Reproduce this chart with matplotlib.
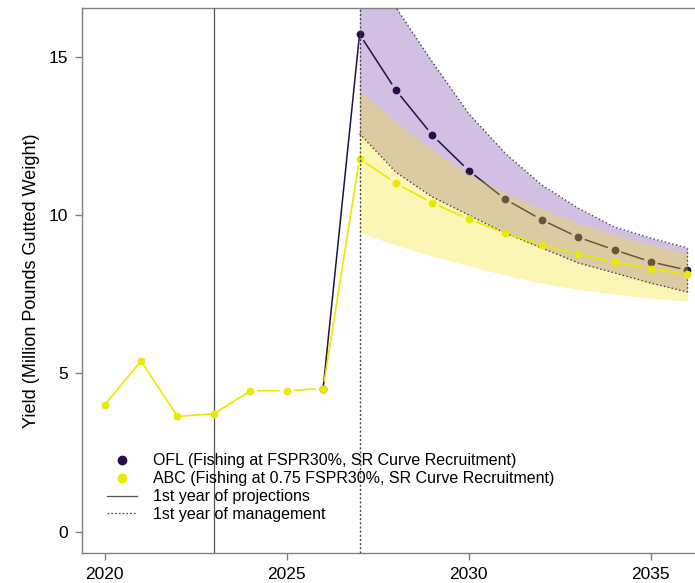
import matplotlib
matplotlib.use("Agg")
import matplotlib.pyplot as plt
from matplotlib.lines import Line2D

plt.rcParams['font.family'] = ['Liberation Sans', 'DejaVu Sans']

# ---- data ----
years = list(range(2020, 2037))
abc = [4.0, 5.39, 3.64, 3.72, 4.45, 4.45, 4.52, 11.78, 11.0, 10.38,
       9.87, 9.43, 9.05, 8.77, 8.52, 8.3, 8.14]
ofl_years = list(range(2026, 2037))
ofl = [4.52, 15.71, 13.94, 12.52, 11.4, 10.5, 9.85, 9.3, 8.9, 8.52, 8.26]

band_years = list(range(2027, 2037))
ofl_upper = [18.6, 16.55, 14.83, 13.2, 11.95, 10.95, 10.22, 9.62, 9.27, 8.96]
ofl_lower = [12.57, 11.35, 10.57, 10.0, 9.43, 8.96, 8.49, 8.17, 7.85, 7.57]
abc_upper = [13.94, 12.95, 12.05, 11.3, 10.7, 10.2, 9.75, 9.38, 9.07, 8.8]
abc_lower = [9.45, 9.05, 8.7, 8.4, 8.1, 7.85, 7.65, 7.5, 7.38, 7.28]

first_proj_year = 2023
first_mgmt_year = 2027

xticks = [2020, 2025, 2030, 2035]
yticks = [0, 5, 10, 15]
ylabel = "Yield (Million Pounds Gutted Weight)"
labels = ["OFL (Fishing at FSPR30%, SR Curve Recruitment)",
          "ABC (Fishing at 0.75 FSPR30%, SR Curve Recruitment)",
          "1st year of projections",
          "1st year of management"]

# ---- style ----
OFL_COL = '#241046'
ABC_COL = '#EAEA00'
PURPLE_FILL = '#9B72C4'
YELLOW_FILL = '#F5E61E'
GRID_COL = '#555555'
SPINE_COL = '#808080'

fig = plt.figure(figsize=(6.95, 5.83), dpi=100)
ax = fig.add_axes([82/695, 1-553.3/583, 1-82/695, (553.3-8.3)/583])
ax.set_xlim(2019.38, 2036.21)
ax.set_ylim(-0.685, 16.53)


def connect(xs, ys, color, lw, gap_from, z):
    for i in range(len(xs) - 1):
        shrink = 5.5 if xs[i] >= gap_from else 0
        ax.annotate("", xy=(xs[i+1], ys[i+1]), xytext=(xs[i], ys[i]),
                    xycoords='data', textcoords='data',
                    arrowprops=dict(arrowstyle='-', color=color, lw=lw,
                                    shrinkA=shrink, shrinkB=shrink),
                    zorder=z)


# purple band with dotted border
ax.fill_between(band_years, ofl_lower, ofl_upper, color=PURPLE_FILL,
                alpha=0.45, lw=0, zorder=1)
dot = (0, (1, 1.8))
ax.plot(band_years, ofl_upper, color='#444444', lw=1, ls=dot, zorder=6)
ax.plot(band_years, ofl_lower, color='#444444', lw=1, ls=dot, zorder=6)
ax.plot([band_years[-1], band_years[-1]], [ofl_lower[-1], ofl_upper[-1]],
        color='#444444', lw=1, ls=dot, zorder=6)

# OFL line and points
connect(ofl_years, ofl, OFL_COL, 1.1, 2027, 4)
ax.plot(ofl_years, ofl, 'o', color=OFL_COL, ms=4.6, zorder=4.5)

# yellow band on top (tints OFL beneath)
ax.fill_between(band_years, abc_lower, abc_upper, color=YELLOW_FILL,
                alpha=0.33, lw=0, zorder=5)

# ABC line and points
connect(years, abc, ABC_COL, 1.2, 2024, 7)
ax.plot(years, abc, 'o', color=ABC_COL, ms=4.6, zorder=7.5)

# reference lines
ax.axvline(first_proj_year, color=GRID_COL, lw=0.9, zorder=3)
ax.axvline(first_mgmt_year, color='#444444', lw=1.0, ls=(0, (1.5, 1.5)), zorder=8)

# axes styling
ax.spines['right'].set_visible(False)
for s in ['left', 'bottom', 'top']:
    ax.spines[s].set_color(SPINE_COL)
    ax.spines[s].set_linewidth(1.0)
ax.set_xticks(xticks)
ax.set_yticks(yticks)
ax.tick_params(axis='both', direction='out', length=5, width=1, color=SPINE_COL,
               labelsize=12.5, pad=5)
ax.set_ylabel(ylabel, fontsize=13, labelpad=6)

handles = [
    Line2D([], [], marker='o', ls='none', color=OFL_COL, ms=6),
    Line2D([], [], marker='o', ls='none', color=ABC_COL, ms=6),
    Line2D([], [], color=GRID_COL, lw=0.9),
    Line2D([], [], color=GRID_COL, lw=0.9, ls=(0, (1.5, 1.5))),
]
leg = ax.legend(handles, labels, loc='lower left',
                bbox_to_anchor=((107-82)/613, (553.3-522)/545),
                frameon=False, fontsize=11.5, borderpad=0, borderaxespad=0,
                handlelength=1.9, handletextpad=0.95, labelspacing=0.18)
leg.set_zorder(10)

fig.savefig("out.png", dpi=100)
